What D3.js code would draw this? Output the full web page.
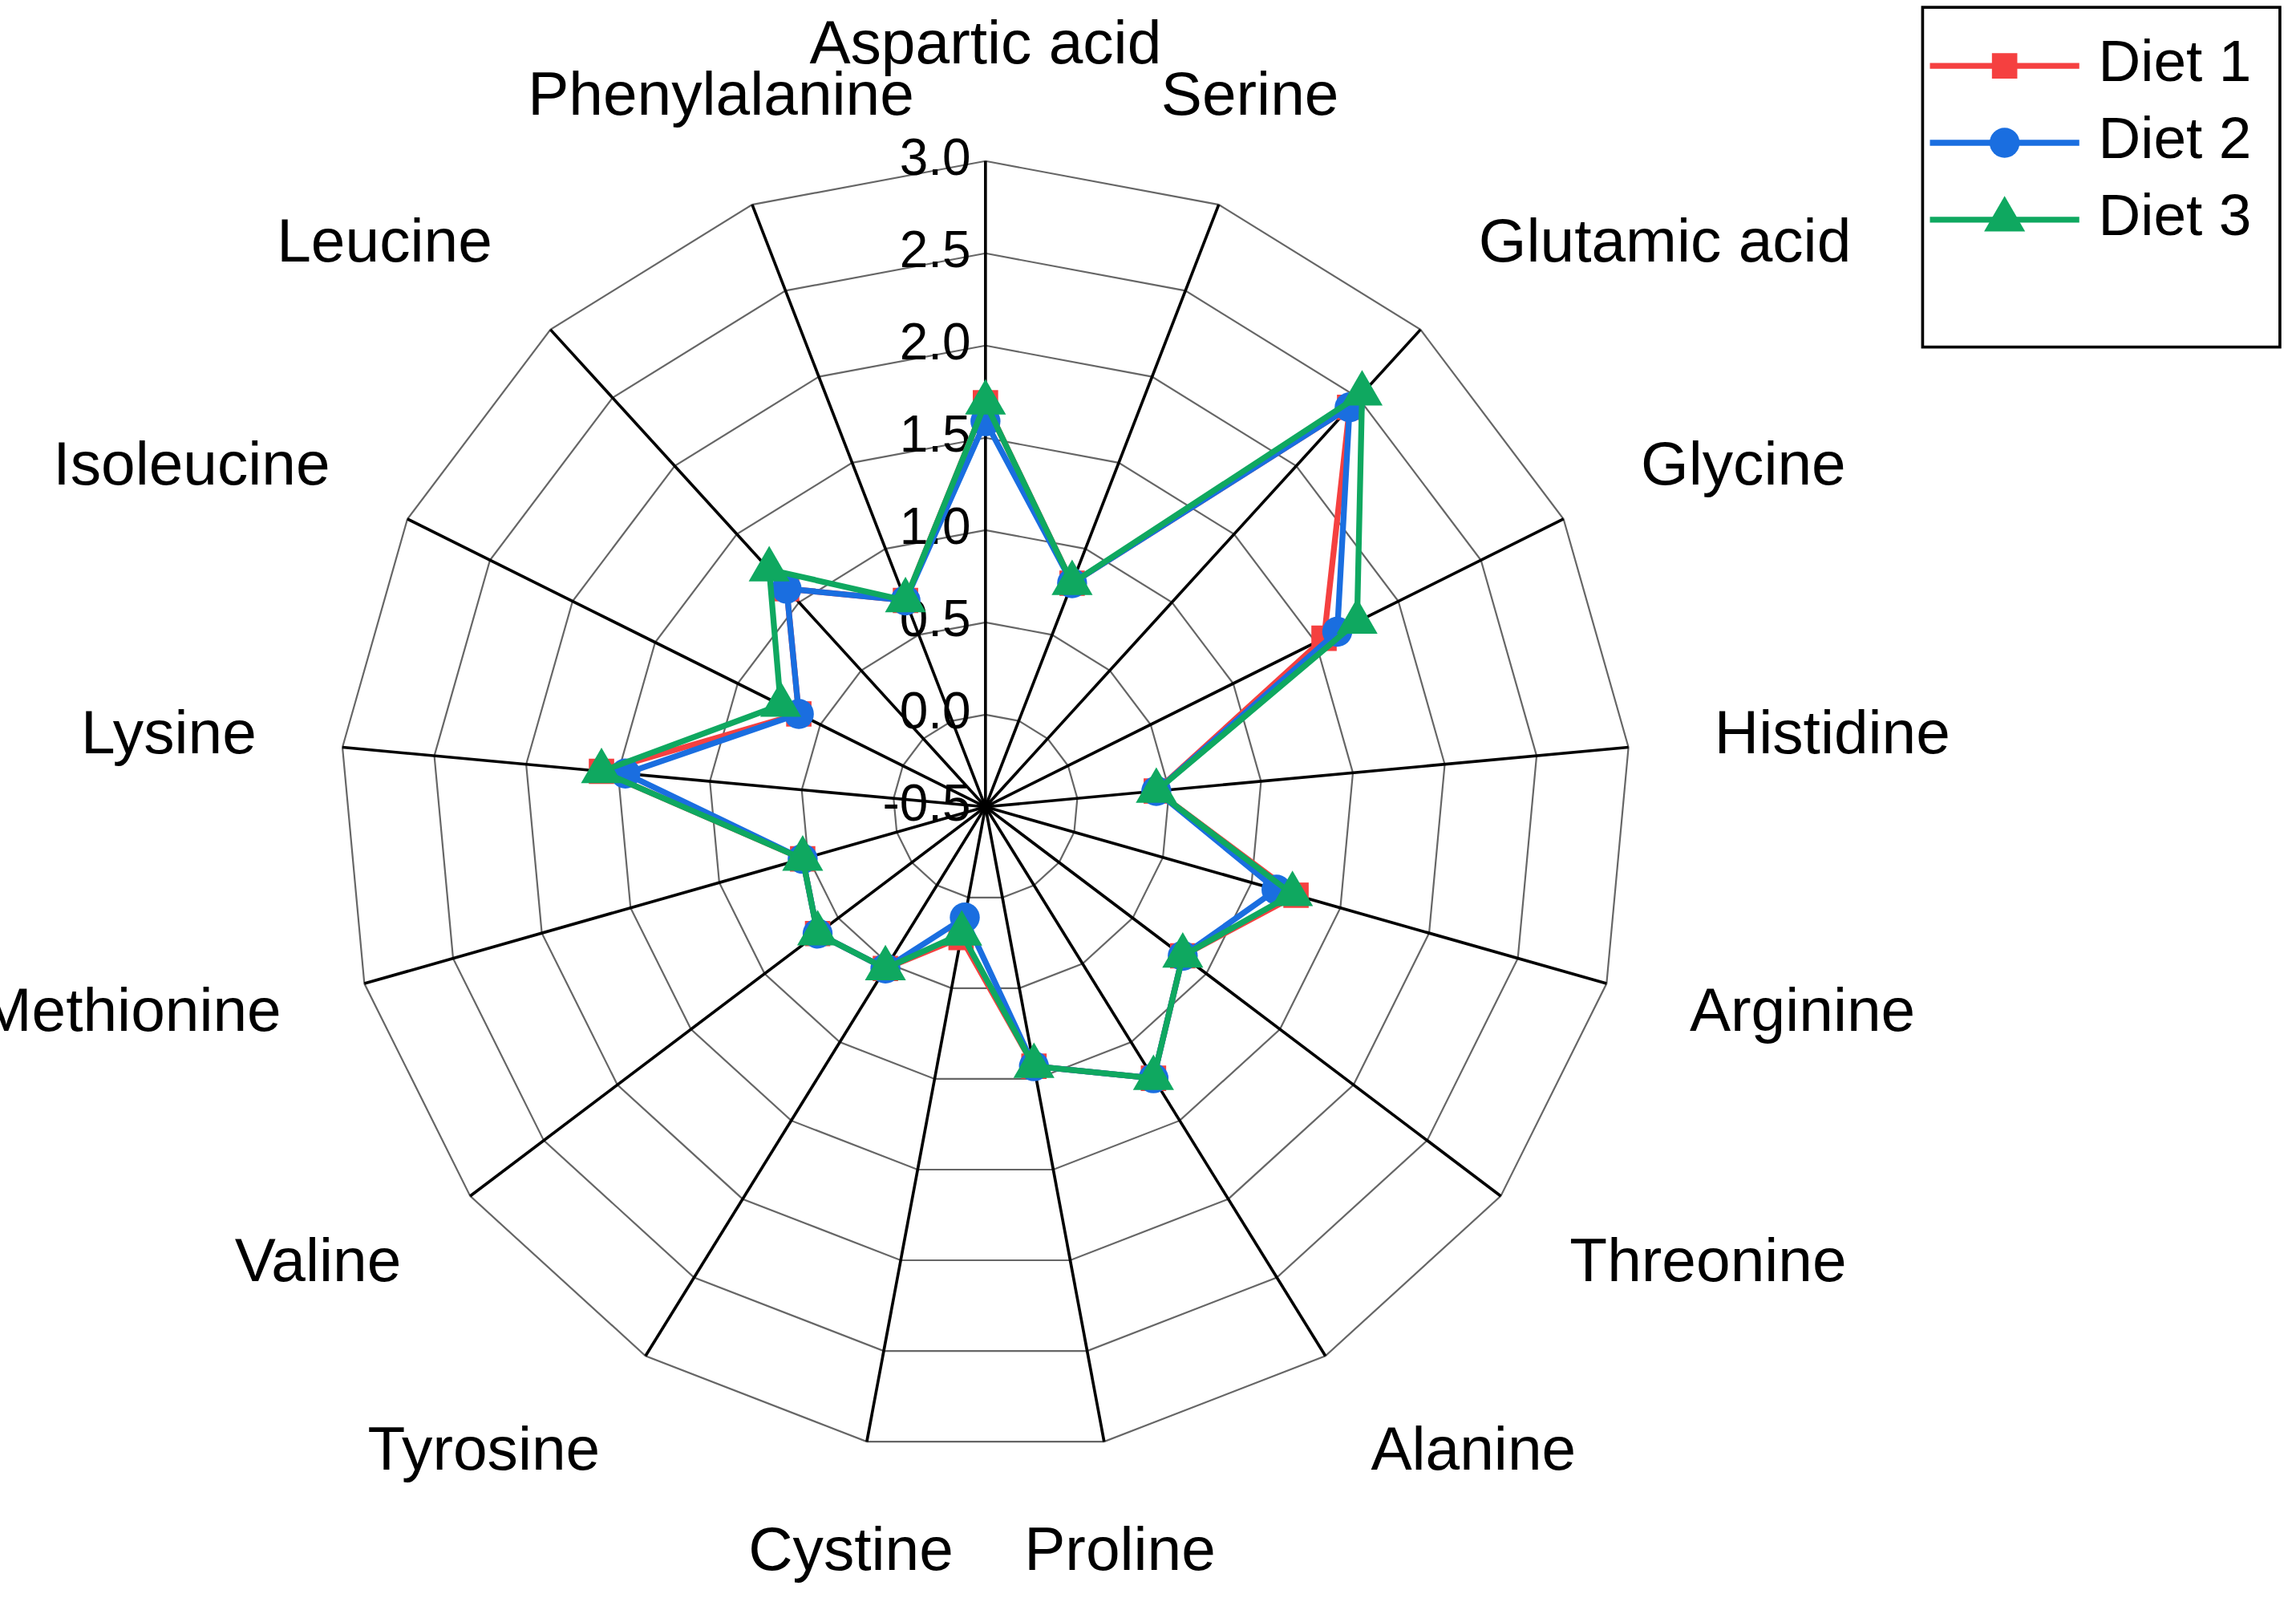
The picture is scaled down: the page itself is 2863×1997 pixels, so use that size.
<!DOCTYPE html>
<html><head><meta charset="utf-8">
<script src="https://cdn.jsdelivr.net/npm/d3@7"></script>
<style>html,body{margin:0;padding:0;background:#fff;overflow:hidden}</style>
</head><body>
<script>
const categories = ["Aspartic acid","Serine","Glutamic acid","Glycine","Histidine","Arginine","Threonine","Alanine","Proline","Cystine","Tyrosine","Valine","Methionine","Lysine","Isoleucine","Leucine","Phenylalanine"];
const diet1 = [1.69,0.80,2.43,1.55,0.43,1.25,0.84,1.23,0.93,0.22,0.53,0.64,0.53,1.59,0.63,1.10,0.70];
const diet2 = [1.59,0.80,2.43,1.63,0.43,1.14,0.84,1.23,0.93,0.11,0.53,0.64,0.53,1.46,0.63,1.10,0.70];
const diet3 = [1.69,0.80,2.53,1.75,0.43,1.23,0.84,1.23,0.93,0.20,0.53,0.64,0.53,1.59,0.74,1.24,0.70];
const seriesNames = ["Diet 1","Diet 2","Diet 3"];
const tickValues = [-0.5,0.0,0.5,1.0,1.5,2.0,2.5,3.0];

const W=1568,H=1094,cx=673,cy=551;
const svg=d3.select("body").append("svg").attr("width",2863).attr("height",1997)
  .attr("viewBox",`0 0 ${W} ${H}`).attr("preserveAspectRatio","none")
  .style("font-family","'Liberation Sans',Arial,sans-serif");
const g=svg.append("g").attr("transform",`translate(${cx},${cy})`);
const r=d3.scaleLinear().domain([-0.5,3.0]).range([0,441]);
const n=categories.length;
const ang=d3.scaleLinear().domain([0,n]).range([0,2*Math.PI]);
const idx=d3.range(n);
tickValues.slice(1).forEach(t=>{
  g.append("path").attr("fill","none").attr("stroke","#666").attr("stroke-width",1.2)
   .attr("d",d3.lineRadial().angle(i=>ang(i)).radius(()=>r(t)).curve(d3.curveLinearClosed)(idx));
});
idx.forEach(i=>{
  const a=ang(i);
  g.append("line").attr("x1",0).attr("y1",0).attr("x2",r(3)*Math.sin(a)).attr("y2",-r(3)*Math.cos(a))
   .attr("stroke","#000").attr("stroke-width",2);
});
tickValues.forEach(t=>{
  g.append("text").attr("x",-10).attr("y",-r(t)).attr("text-anchor","end").attr("dominant-baseline","middle")
   .attr("font-size",35).text(t.toFixed(1));
});
idx.forEach(i=>{
  const a=ang(i),s=Math.sin(a),c=Math.cos(a);
  const x=500*s, y=-507*c - 12*c;
  const anchor=Math.abs(s)<0.4?"middle":(s>0?"start":"end");
  g.append("text").attr("x",x).attr("y",y).attr("text-anchor",anchor).attr("dominant-baseline","middle")
   .attr("font-size",42).text(categories[i]);
});
const colors=["#f54040","#1a6ee0","#0fa860"];
const data=[diet1,diet2,diet3];
const sym=[d3.symbolSquare,d3.symbolCircle,d3.symbolTriangle];
const symSize=[300,330,340];
data.forEach((d,k)=>{
  g.append("path").attr("fill","none").attr("stroke",colors[k]).attr("stroke-width",4)
   .attr("d",d3.lineRadial().angle((v,i)=>ang(i)).radius(v=>r(v)).curve(d3.curveLinearClosed)(d));
  d.forEach((v,i)=>{
    const a=ang(i);
    g.append("path").attr("d",d3.symbol().type(sym[k]).size(symSize[k])())
     .attr("transform",`translate(${r(v)*Math.sin(a)},${-r(v)*Math.cos(a)})`).attr("fill",colors[k]);
  });
});
const lg=svg.append("g");
lg.append("rect").attr("x",1313).attr("y",5).attr("width",244).attr("height",232).attr("fill","#fff").attr("stroke","#000").attr("stroke-width",2);
seriesNames.forEach((nm,k)=>{
  const y=45+k*52.5;
  lg.append("line").attr("x1",1318).attr("x2",1420).attr("y1",y).attr("y2",y).attr("stroke",colors[k]).attr("stroke-width",4);
  lg.append("path").attr("d",d3.symbol().type(sym[k]).size(symSize[k])()).attr("transform",`translate(1369,${y})`).attr("fill",colors[k]);
  lg.append("text").attr("x",1433).attr("y",y).attr("dominant-baseline","middle").attr("font-size",40).text(nm);
});
</script>
</body></html>
